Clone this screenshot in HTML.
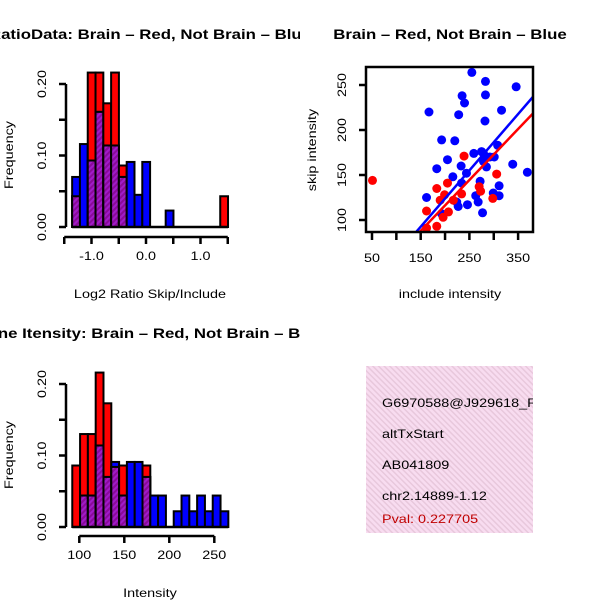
<!DOCTYPE html>
<html><head><meta charset="utf-8"><style>
body{margin:0;background:#fff}svg{display:block;font-family:"Liberation Sans",sans-serif}
</style></head><body>
<svg id="c" width="600" height="600" viewBox="0 0 600 600">
<defs>
<pattern id="ph" width="4" height="4" patternUnits="userSpaceOnUse" patternTransform="rotate(45)"><rect width="4" height="4" fill="#a01cc8"/><rect width="2" height="4" fill="#8a0a9a"/></pattern>
<pattern id="pk" width="4" height="4" patternUnits="userSpaceOnUse" patternTransform="rotate(-45)"><rect width="4" height="4" fill="#f8dcf0"/><rect width="1.5" height="4" fill="#e8c8dc"/></pattern>
<clipPath id="clipS"><rect x="366" y="67" width="167" height="165"/></clipPath>
<clipPath id="clipT"><rect x="366" y="366" width="167" height="167"/></clipPath>
<clipPath id="clipL1"><rect x="0" y="0" width="300" height="300"/></clipPath>
<clipPath id="clipL2"><rect x="0" y="300" width="300" height="300"/></clipPath>
</defs>
<g id="root"></g>
</svg>
<script>
// Top histogram (log2 ratio), bins of equal width
const h1Start = -1.355;
const h1Width = 0.143;
const h1Red  = [0.043,0,0.216,0.216,0.173,0.216,0.086,0,0,0,0,0,0,0,0,0,0,0,0,0.043];
const h1Blue = [0.07,0.116,0.093,0.161,0.114,0.114,0.07,0.091,0.045,0.091,0,0,0.023,0,0,0,0,0,0,0];
const h1XTicks = [-1.5,-1.0,-0.5,0.0,0.5,1.0,1.5];
const h1XLabels = ["-1.0","0.0","1.0"];
const h1XLabelVals = [-1.0,0.0,1.0];
const yTicks = [0,0.05,0.10,0.15,0.20];
const yLabels = ["0.00","0.10","0.20"];
const yLabelVals = [0,0.10,0.20];
// Bottom histogram (intensity)
const h2Start = 92.2;
const h2Width = 8.67;
const h2Red  = [0.086,0.13,0.13,0.216,0.173,0.084,0.086,0,0,0.086,0,0,0,0,0,0,0,0,0,0];
const h2Blue = [0,0.044,0.044,0.114,0.07,0.091,0.044,0.091,0.091,0.07,0.044,0.044,0,0.022,0.044,0.022,0.044,0.022,0.044,0.022];
const h2XTicks = [100,150,200,250];
// Scatter
const blueX = [255,283,346,235,283,240,167,316,228,282,193,220,259,275,308,205,183,233,285,339,369,216,244,272,234,301,162,224,263,268,299,311,311,227,246,277,193,279,279,292];
const blueY = [264,254,248,238,239,230,220,222,217,210,189,188,174,176,183,167,157,160,159,162,153,148,152,143,141,170,125,120,127,120,130,138,127,115,117,108,107,174,165,170];
const redX = [51,239,306,183,205,199,190,234,270,273,298,162,207,196,183,162,217];
const redY = [144,171,151,135,141,128,122,129,137,132,124,110,109,103,93,91,122];
const fitSlope = [0.626,0.566];
const fitIntercept = [-1.4,3];
const fitColor = ["#0000ff","#ff0000"];
const sXTicks = [50,100,150,200,250,300,350];
const sXLabels = [50,150,250,350];
const sYTicks = [100,150,200,250];

const NS="http://www.w3.org/2000/svg";
const root=document.getElementById('root');
function mk(tag,attrs,parent){const e=document.createElementNS(NS,tag);for(const k in attrs)e.setAttribute(k,attrs[k]);(parent||root).appendChild(e);return e;}
function widen(t){const w=t.getComputedTextLength();if(w>0){t.setAttribute('textLength',(w*1.2).toFixed(1));t.setAttribute('lengthAdjust','spacingAndGlyphs');}}
function txt(s,x,y,size,extra,parent){const t=mk('text',Object.assign({x:x,y:y,'font-size':size,'text-anchor':'middle'},extra||{}),parent);t.textContent=s;widen(t);return t;}

function histogram(name,start,w,red,blue,xs,xTicks,labelVals,labels,yBase,yTop,axisY){
  const ys=v=>yBase-(v/0.20)*(yBase-yTop);
  const g=mk('g',{});
  
  
  for(let i=0;i<red.length;i++){
    const x0=xs(start+i*w),x1=xs(start+(i+1)*w);
    const r=red[i],b=blue[i];
    if(r>0){const e=mk('rect',{x:x0,y:ys(r),width:x1-x0,height:yBase-ys(r),fill:'#ff0000',stroke:'#000','stroke-width':2},g);
      }
    if(b>0){const e=mk('rect',{x:x0,y:ys(b),width:x1-x0,height:yBase-ys(b),fill:'#0000ff',stroke:'#000','stroke-width':2},g);
      }
    const m=Math.min(r,b);
    if(m>0){const e=mk('rect',{x:x0,y:ys(m),width:x1-x0,height:yBase-ys(m),fill:'url(#ph)',stroke:'#000','stroke-width':2},g);
      }
  }
  mk('line',{x1:xs(start),x2:xs(start+red.length*w),y1:yBase,y2:yBase,stroke:'#000','stroke-width':2.5},g);
  const ya=mk('g',{},g);
  
  mk('line',{x1:66,x2:66,y1:ys(0),y2:ys(0.2),stroke:'#000','stroke-width':2.5},ya);
  yTicks.forEach(v=>mk('line',{x1:59,x2:66,y1:ys(v),y2:ys(v),stroke:'#000','stroke-width':2.5},ya));
  yLabels.forEach((s,i)=>{const y=ys(yLabelVals[i]);txt(s,46,y,12,{transform:`rotate(-90 46 ${y})`},ya);});
  const xa=mk('g',{},g);
  
  mk('line',{x1:xs(xTicks[0]),x2:xs(xTicks[xTicks.length-1]),y1:axisY,y2:axisY,stroke:'#000','stroke-width':2.5},xa);
  xTicks.forEach(v=>mk('line',{x1:xs(v),x2:xs(v),y1:axisY,y2:axisY+7,stroke:'#000','stroke-width':2.5},xa));
  labels.forEach((s,i)=>txt(s,xs(labelVals[i]),axisY+23,12,{},xa));
}
histogram('ratio-histogram',h1Start,h1Width,h1Red,h1Blue,v=>146+v*54.5,h1XTicks,h1XLabelVals,h1XLabels,227,84,237);
histogram('intensity-histogram',h2Start,h2Width,h2Red,h2Blue,v=>79.3+(v-100)*0.9,h2XTicks,h2XTicks,h2XTicks.map(String),527,384,536);

const g1=mk('g',{'clip-path':'url(#clipL1)'});
const g2=mk('g',{'clip-path':'url(#clipL2)'});
[['RatioData: Brain – Red, Not Brain – Blue',150,39,'ratio-title',g1],['Brain – Red, Not Brain – Blue',450,39,'scatter-title',root],['Gene Itensity: Brain – Red, Not Brain – Blue',150,338,'intensity-title',g2]].forEach(a=>{
  const t=txt(a[0],a[1],a[2],14,{'font-weight':'bold'},a[4]);});
[['Log2 Ratio Skip/Include',150,298],['include intensity',450,298],['Intensity',150,597]].forEach(a=>{const t=txt(a[0],a[1],a[2],12);});
[['Frequency',13,155],['skip intensity',316,150],['Frequency',13,455]].forEach(a=>{const t=txt(a[0],a[1],a[2],12,{transform:`rotate(-90 ${a[1]} ${a[2]})`});});

const sx=v=>372+(v-50)*0.487, sy=v=>220-(v-100)*0.9;
const sg=mk('g',{});

const pts=mk('g',{'clip-path':'url(#clipS)'},sg);
blueX.forEach((x,i)=>{const c=mk('circle',{cx:sx(x),cy:sy(blueY[i]),r:4.5,fill:'#0000ff'},pts);});
redX.forEach((x,i)=>{const c=mk('circle',{cx:sx(x),cy:sy(redY[i]),r:4.5,fill:'#ff0000'},pts);});
fitSlope.forEach((m,i)=>{const x0=20,x1=420;const l=mk('line',{x1:sx(x0),y1:sy(m*x0+fitIntercept[i]),x2:sx(x1),y2:sy(m*x1+fitIntercept[i]),stroke:fitColor[i],'stroke-width':2.5},pts);});
mk('rect',{x:366,y:67,width:167,height:165,fill:'none',stroke:'#000','stroke-width':2.5},sg);
sXTicks.forEach(v=>mk('line',{x1:sx(v),x2:sx(v),y1:233,y2:240,stroke:'#000','stroke-width':2.5},sg));
sXLabels.forEach(v=>txt(String(v),sx(v),262,12,{},sg));
sYTicks.forEach(v=>{mk('line',{x1:359,x2:366,y1:sy(v),y2:sy(v),stroke:'#000','stroke-width':2.5},sg);txt(String(v),346,sy(v),12,{transform:`rotate(-90 346 ${sy(v)})`},sg);});

const ib=mk('g',{'clip-path':'url(#clipT)'});

mk('rect',{x:366,y:366,width:167,height:167,fill:'url(#pk)'},ib);
[['G6970588@J929618_RC',407],['altTxStart',438],['AB041809',469],['chr2.14889-1.12',500],['Pval: 0.227705',523]].forEach((a,i)=>{
  const t=mk('text',{x:382,y:a[1],'font-size':12,fill:i==4?'#c00000':'#000'},ib);t.textContent=a[0];widen(t);
  });
</script>
</body></html>
